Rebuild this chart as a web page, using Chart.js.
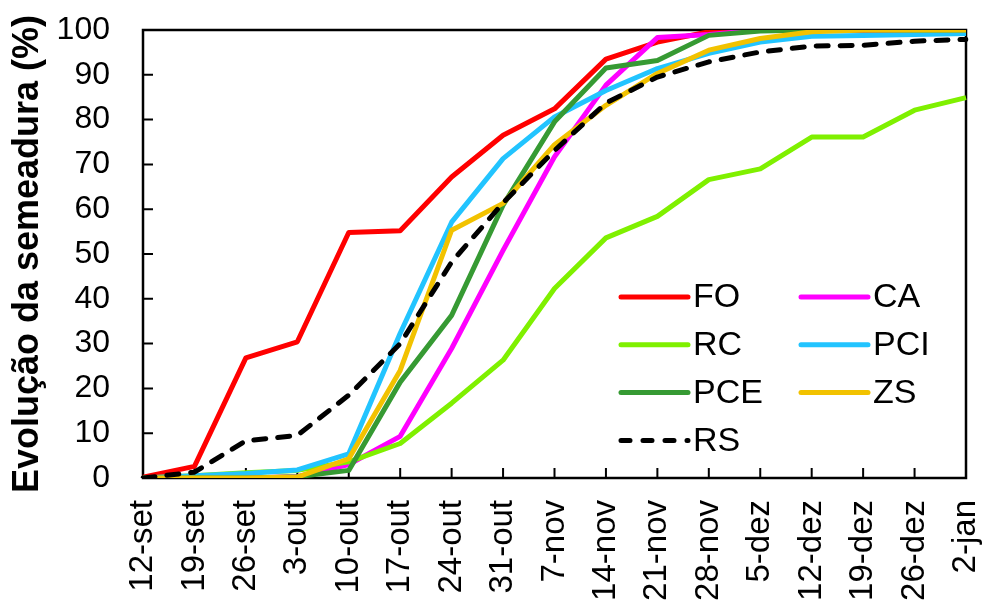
<!DOCTYPE html>
<html>
<head>
<meta charset="utf-8">
<script src="https://cdn.jsdelivr.net/npm/chart.js@4.4.0/dist/chart.umd.min.js"></script>
<style>
    html, body { margin: 0; padding: 0; background: #fff; }
    #box { width: 985px; height: 602px; }
</style>
</head>
<body>
<div id="box"><canvas id="semeaduraChart" width="985" height="602"></canvas></div>
<script>
// semanas (eixo x)
const weeks = ["12-set", "19-set", "26-set", "3-out", "10-out", "17-out", "24-out", "31-out", "7-nov",
    "14-nov", "21-nov", "28-nov", "5-dez", "12-dez", "19-dez", "26-dez", "2-jan"];
const yTicks = [0, 10, 20, 30, 40, 50, 60, 70, 80, 90, 100];

// evolução da semeadura (%) por região
const FO = [0.2, 2.6, 26.8, 30.4, 54.8, 55.2, 67.2, 76.5, 82.4, 93.5, 97.3, 99.6, 100, 100, 100, 100, 100];
const CA = [0, 0, 0, 0.3, 3.0, 9.3, 28.9, 50.8, 71.7, 87.7, 98.3, 99.0, 100, 100, 100, 100, 100];
const RC = [0, 0.5, 1.2, 1.7, 3.6, 7.7, 16.7, 26.3, 42.3, 53.6, 58.4, 66.6, 69.0, 76.1, 76.1, 82.1, 84.9];
const PCI = [0, 0.5, 1.0, 1.8, 5.4, 32.3, 57.1, 71.3, 80.6, 86.5, 91.4, 94.8, 97.3, 98.6, 98.8, 99.0, 99.2];
const PCE = [0, 0, 0, 0.3, 1.7, 21.4, 36.3, 60.9, 79.5, 91.5, 93.2, 98.8, 99.8, 100, 100, 100, 100];
const ZS = [0, 0, 0, 0.2, 4.3, 24.0, 55.3, 61.3, 74.4, 83.2, 90.3, 95.5, 98.1, 99.6, 100, 100, 100];
const RS = [0, 1.3, 8.3, 9.5, 18.5, 30.0, 48.2, 61.4, 73.1, 83.7, 89.5, 92.9, 95.1, 96.4, 96.6, 97.5, 97.9];

const series = [
    { label: "FO", data: FO, color: "#ff0000" },
    { label: "CA", data: CA, color: "#ff00ff" },
    { label: "RC", data: RC, color: "#7ff000" },
    { label: "PCI", data: PCI, color: "#22c4ff" },
    { label: "PCE", data: PCE, color: "#369a33" },
    { label: "ZS", data: ZS, color: "#f2c200" },
    { label: "RS", data: RS, color: "#000000", dash: [12, 12] }
];

const font = "'Liberation Sans', Arial, sans-serif";

// moldura da área do gráfico + marcas de escala para dentro
const framePlugin = {
    id: 'frame',
    beforeDatasetsDraw(chart) {
        const ctx = chart.ctx;
        const a = chart.chartArea;
        ctx.save();
        ctx.strokeStyle = '#000';
        ctx.lineWidth = 2.5;
        ctx.strokeRect(a.left, a.top, a.right - a.left, a.bottom - a.top);
        ctx.beginPath();
        const ys = chart.scales.y;
        ys.ticks.forEach(function (t, i) {
            const py = ys.getPixelForTick(i);
            ctx.moveTo(a.left, py);
            ctx.lineTo(a.left + 10, py);
        });
        const xs = chart.scales.x;
        xs.ticks.forEach(function (t, i) {
            const px = xs.getPixelForTick(i);
            ctx.moveTo(px, a.bottom);
            ctx.lineTo(px, a.bottom - 10);
        });
        ctx.lineWidth = 2;
        ctx.stroke();
        ctx.restore();
    }
};

// legenda em duas colunas dentro do gráfico
const legendPlugin = {
    id: 'legend2col',
    afterDraw(chart) {
        const ctx = chart.ctx;
        const a = chart.chartArea;
        ctx.save();
        ctx.font = "34px " + font;
        ctx.textBaseline = 'middle';
        ctx.textAlign = 'left';
        series.forEach(function (s, i) {
            const x = a.left + 478 + (i % 2) * 180;
            const y = a.top + 267 + Math.floor(i / 2) * 47.8;
            ctx.beginPath();
            ctx.strokeStyle = s.color;
            ctx.lineWidth = 5;
            ctx.lineCap = 'round';
            ctx.setLineDash(s.dash ? [9, 13] : []);
            ctx.moveTo(x, y);
            ctx.lineTo(x + 67, y);
            ctx.stroke();
            ctx.setLineDash([]);
            ctx.fillStyle = '#000';
            ctx.fillText(s.label, x + 72, y + 1);
        });
        ctx.restore();
    }
};

const ctx = document.getElementById('semeaduraChart').getContext('2d');
const semeaduraChart = new Chart(ctx, {
    type: 'line',
    data: {
        labels: weeks,
        datasets: series.map(function (s, i) {
            return {
                label: s.label,
                data: s.data,
                borderColor: s.color,
                backgroundColor: s.color,
                borderWidth: 5,
                borderDash: s.dash || [],
                borderCapStyle: s.dash ? 'round' : 'butt',
                borderJoinStyle: 'round',
                pointRadius: 0,
                fill: false,
                tension: 0,
                order: series.length - i
            };
        })
    },
    options: {
        responsive: false,
        animation: false,
        layout: { padding: { top: 30, right: 19, left: 0, bottom: 0 } },
        plugins: {
            legend: { display: false },
            tooltip: { enabled: false }
        },
        scales: {
            x: {
                offset: false,
                grid: { display: false, drawTicks: false },
                border: { display: false },
                ticks: {
                    color: '#000',
                    font: { family: font, size: 33 },
                    minRotation: 90,
                    maxRotation: 90,
                    autoSkip: false,
                    padding: 22
                },
                afterFit: function (scale) {
                    scale.height = 124;
                    scale.paddingLeft = 0;
                    scale.paddingRight = 0;
                }
            },
            y: {
                min: 0,
                max: 100,
                grid: { display: false, drawTicks: false },
                border: { display: false },
                afterBuildTicks: function (scale) {
                    scale.ticks = yTicks.map(function (v) { return { value: v }; });
                },
                ticks: {
                    color: '#000',
                    font: { family: font, size: 32 },
                    padding: 33
                },
                title: {
                    display: true,
                    text: 'Evolução da semeadura (%)',
                    color: '#000',
                    font: { family: font, size: 36, weight: 'bold' },
                    padding: { top: 6, bottom: 0 }
                },
                afterFit: function (scale) {
                    scale.width = 143;
                    scale.paddingTop = 0;
                    scale.paddingBottom = 0;
                }
            }
        }
    },
    plugins: [framePlugin, legendPlugin]
});
</script>
</body>
</html>
